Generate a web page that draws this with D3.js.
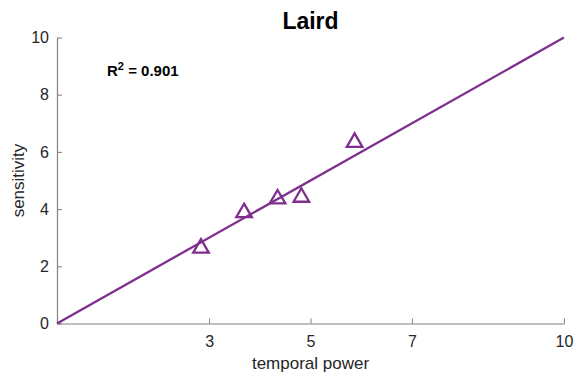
<!DOCTYPE html>
<html>
<head>
<meta charset="utf-8">
<script src="https://cdn.jsdelivr.net/npm/d3@7"></script>
<style>
  html, body { margin: 0; padding: 0; background: #fff; }
  svg { display: block; font-family: "Liberation Sans", Arial, sans-serif; }
</style>
</head>
<body>
<svg id="chart" width="574" height="375"></svg>
<script>
// Observed values: temporal power vs sensitivity
const temporalPower = [2.84, 3.69, 4.35, 4.82, 5.87];
const sensitivity   = [2.67, 3.91, 4.39, 4.45, 6.37];
// Identity reference line end points
const fitX = [0, 10];
const fitY = [0, 10];
const xTicks = [3, 5, 7, 10];
const yTicks = [0, 2, 4, 6, 8, 10];
const titleText = "Laird";
const r2Value = "0.901";

const purple = "#7E2F8E";
const axisColor = "#808080";
const textColor = "#262626";

const svg = d3.select("#chart");
const m = { left: 57, right: 10, top: 37.5, bottom: 51.5 };
const W = 574, H = 375;

const x = d3.scaleLinear().domain([0, 10]).range([m.left, W - m.right]);
const y = d3.scaleLinear().domain([0, 10]).range([H - m.bottom, m.top]);

// x axis with inward ticks
const xAxis = svg.append("g")
  .attr("transform", `translate(0,${y(0)})`)
  .call(d3.axisBottom(x).tickValues(xTicks).tickSizeInner(-5).tickSizeOuter(0).tickPadding(12));
// y axis with inward ticks
const yAxis = svg.append("g")
  .attr("transform", `translate(${x(0)},0)`)
  .call(d3.axisLeft(y).tickValues(yTicks).tickSizeInner(-5).tickSizeOuter(0).tickPadding(8));

[xAxis, yAxis].forEach(g => {
  g.select(".domain").attr("stroke", axisColor).attr("stroke-width", 1.2);
  g.selectAll(".tick line").attr("stroke", axisColor).attr("stroke-width", 1);
  g.selectAll(".tick text").attr("fill", textColor).attr("font-size", 16)
    .attr("font-family", "'Liberation Sans', Arial, sans-serif");
});
xAxis.selectAll(".tick text").attr("dy", "0.71em");

// reference line
svg.append("line")
  .attr("x1", x(fitX[0])).attr("y1", y(fitY[0]))
  .attr("x2", x(fitX[1])).attr("y2", y(fitY[1]))
  .attr("stroke", purple).attr("stroke-width", 2.3);

// triangle markers
const tri = d3.symbol().type(d3.symbolTriangle).size(105);
svg.append("g").selectAll("path")
  .data(temporalPower.map((v, i) => [v, sensitivity[i]]))
  .join("path")
  .attr("d", tri)
  .attr("transform", d => `translate(${x(d[0])},${y(d[1]) + 1})`)
  .attr("fill", "none")
  .attr("stroke", purple)
  .attr("stroke-width", 2.3)
  .attr("stroke-linejoin", "miter");

// title
svg.append("text")
  .attr("x", (x(0) + x(10)) / 2).attr("y", 29)
  .attr("text-anchor", "middle")
  .attr("font-size", 23).attr("font-weight", "bold").attr("fill", "#000")
  .text(titleText);

// R^2 annotation
const r2 = svg.append("text")
  .attr("x", 107).attr("y", 76)
  .attr("font-size", 15).attr("font-weight", "bold").attr("fill", "#000");
r2.append("tspan").text("R");
r2.append("tspan").attr("font-size", 11).attr("dy", -6).text("2");
r2.append("tspan").attr("dy", 6).text(" = " + r2Value);

// axis labels
svg.append("text")
  .attr("x", (x(0) + x(10)) / 2).attr("y", 369)
  .attr("text-anchor", "middle").attr("font-size", 17).attr("fill", textColor)
  .text("temporal power");
svg.append("text")
  .attr("transform", `translate(24,${(y(0) + y(10)) / 2}) rotate(-90)`)
  .attr("text-anchor", "middle").attr("font-size", 17).attr("fill", textColor)
  .text("sensitivity");
</script>
</body>
</html>
